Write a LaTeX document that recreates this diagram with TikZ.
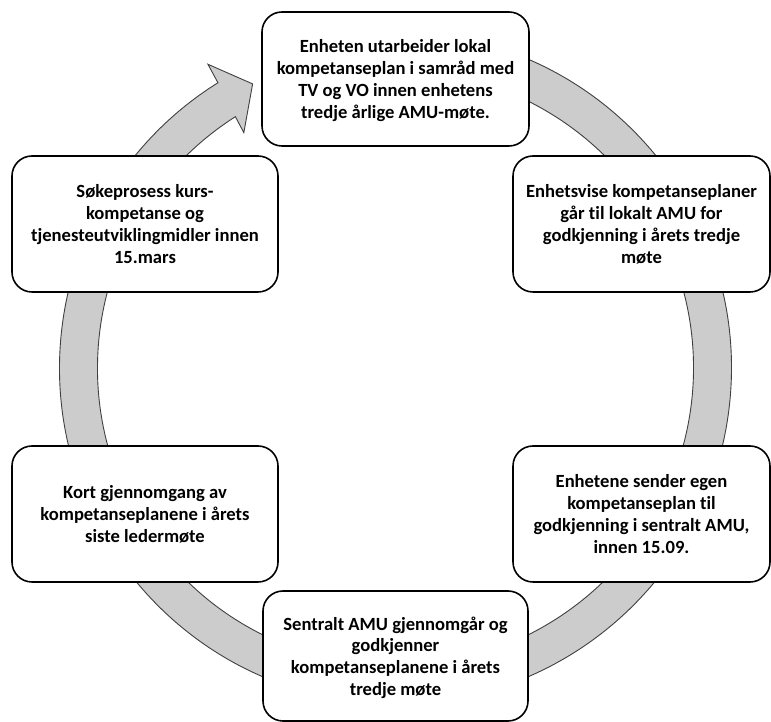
\documentclass[tikz,border=0pt]{standalone}
\usepackage{fontspec}
\setmainfont{Carlito}[Ligatures=NoCommon]
\begin{document}
\begin{tikzpicture}[x=1pt,y=1pt,
  ring/.style={fill=black!20, draw=black!75, line width=0.9pt, line join=miter},
  cyclebox/.style={draw=black, line width=1.6pt, fill=white, rounded corners=20pt,
    inner sep=0pt, align=center, text depth=-2pt, font=\bfseries\fontsize{18.6}{21.7}\selectfont}]
\useasboundingbox (0,0) rectangle (771,722);
\clip (0,0) rectangle (771,722);
% ring with arrowhead
\begin{scope}[shift={(395.5,354)}]
\draw[ring] (85:336) arc[start angle=85, end angle=-238.1, radius=336]
  -- (121.7:357) -- (116.7:318) -- (122.8:280) -- (122.5:298)
  arc[start angle=-237.5, end angle=85, radius=298] -- cycle;
\end{scope}
% boxes
\node[cyclebox, minimum width=267pt, minimum height=134pt] (top) at (395.5,643)
  {Enheten utarbeider lokal\\kompetanseplan i samråd med\\TV og VO innen enhetens\\tredje årlige AMU-møte.};
\node[cyclebox, minimum width=257pt, minimum height=136pt] (tr) at (641.5,498)
  {Enhetsvise kompetanseplaner\\går til lokalt AMU for\\godkjenning i årets tredje\\møte};
\node[cyclebox, minimum width=257pt, minimum height=136pt] (br) at (641.5,208)
  {Enhetene sender egen\\kompetanseplan til\\godkjenning i sentralt AMU,\\innen 15.09.};
\node[cyclebox, minimum width=265pt, minimum height=130pt] (bot) at (395.5,66)
  {Sentralt AMU gjennomgår og\\godkjenner\\kompetanseplanene i årets\\tredje møte};
\node[cyclebox, minimum width=266pt, minimum height=136pt] (bl) at (145,208)
  {Kort gjennomgang av\\kompetanseplanene i årets\\siste ledermøte};
\node[cyclebox, minimum width=266pt, minimum height=136pt] (tl) at (145,498)
  {Søkeprosess kurs-\\kompetanse og\\tjenesteutviklingmidler innen\\15.mars};
\end{tikzpicture}
\end{document}
